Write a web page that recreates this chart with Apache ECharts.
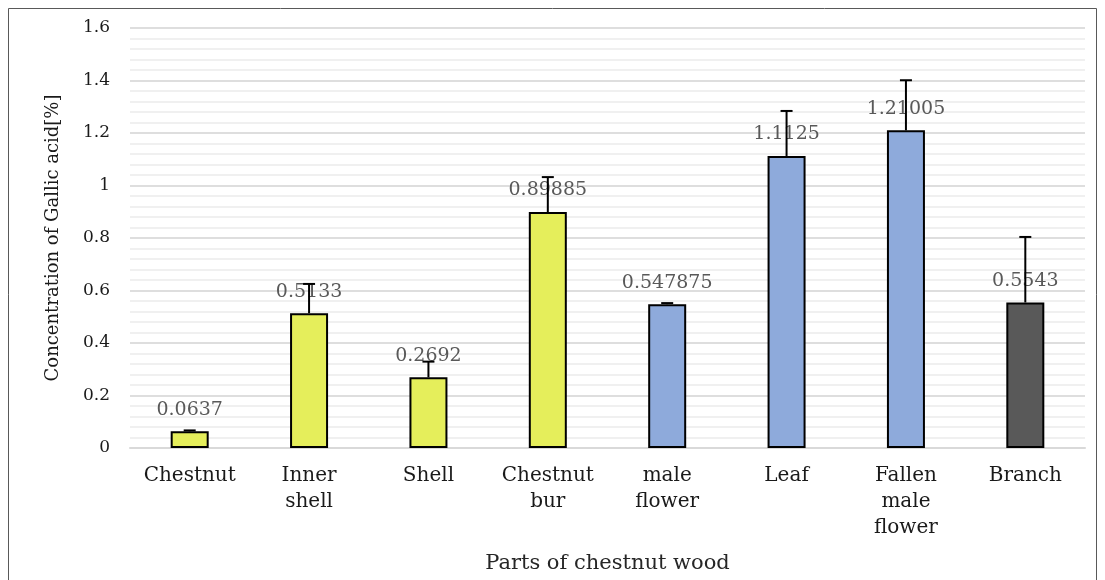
<!DOCTYPE html>
<html>
<head>
<meta charset="utf-8">
<script src="https://cdn.jsdelivr.net/npm/echarts@6/dist/echarts.min.js"></script>
<style>
  html, body { margin: 0; padding: 0; background: #fff; }
  #chart { width: 1105px; height: 580px; }
</style>
</head>
<body>
<div id="chart"></div>
<script>
// parts of the chestnut tree
var categories = ['Chestnut', 'Inner\nshell', 'Shell', 'Chestnut\nbur', 'male\nflower', 'Leaf', 'Fallen\nmale\nflower', 'Branch'];
// mean concentration
var values = [0.0637, 0.5133, 0.2692, 0.89885, 0.547875, 1.1125, 1.21005, 0.5543];
// upper end of the error bars
var errorTops = [0.067, 0.625, 0.329, 1.032, 0.552, 1.284, 1.401, 0.804];
var yTicks = [0, 0.2, 0.4, 0.6, 0.8, 1, 1.2, 1.4, 1.6];

var barColors = ['#e5ee5b', '#e5ee5b', '#e5ee5b', '#e5ee5b', '#8eaadb', '#8eaadb', '#8eaadb', '#595959'];
// the original text is a wide serif, DejaVu Serif is closest in footprint
var font = '"DejaVu Serif", "Liberation Serif", serif';

var chart = echarts.init(document.getElementById('chart'));

var option = {
  animation: false,
  backgroundColor: '#fff',
  grid: { left: 130, right: 20, top: 28, bottom: 132 },
  graphic: [{
    type: 'rect',
    shape: { x: 8.5, y: 8.5, width: 1088, height: 580 },
    style: { fill: 'none', stroke: '#595959', lineWidth: 1 },
    silent: true
  }],
  xAxis: {
    type: 'category',
    data: categories,
    name: 'Parts of chestnut wood',
    nameLocation: 'middle',
    nameGap: 105,
    nameTextStyle: { fontFamily: font, fontSize: 21, color: '#262626' },
    axisLine: { lineStyle: { color: '#d9d9d9', width: 2 } },
    axisTick: { show: false },
    axisLabel: {
      fontFamily: font, fontSize: 20, color: '#1a1a1a',
      lineHeight: 26, margin: 15, interval: 0
    }
  },
  yAxis: {
    type: 'value',
    min: 0,
    max: 1.6,
    interval: 0.2,
    name: 'Concentration of Gallic acid[%]',
    nameLocation: 'middle',
    nameGap: 68,
    nameTextStyle: { fontFamily: font, fontSize: 18, color: '#1a1a1a' },
    axisLine: { show: false },
    axisTick: { show: false },
    axisLabel: {
      fontFamily: font, fontSize: 17, color: '#1a1a1a', margin: 20,
      formatter: function (v) {
        var t = yTicks.filter(function (k) { return Math.abs(k - v) < 1e-9; })[0];
        return t === undefined ? '' : String(t);
      }
    },
    splitLine: { lineStyle: { color: '#dedede', width: 2 } },
    minorTick: { show: false, splitNumber: 5 },
    minorSplitLine: { show: true, lineStyle: { color: '#ececec', width: 1.5 } }
  },
  series: [
    {
      type: 'bar',
      barWidth: 38,
      data: values.map(function (v, i) {
        return { value: v, itemStyle: { color: barColors[i] } };
      }),
      itemStyle: { borderColor: '#000', borderWidth: 2 },
      label: {
        show: true,
        position: 'top',
        distance: 12,
        fontFamily: font,
        fontSize: 19,
        color: '#595959',
        formatter: function (p) { return String(values[p.dataIndex]); }
      },
      z: 2
    },
    {
      type: 'custom',
      data: values.map(function (v, i) { return [i, v, errorTops[i]]; }),
      renderItem: function (params, api) {
        var base = api.coord([api.value(0), api.value(1)]);
        var top = api.coord([api.value(0), api.value(2)]);
        var cap = 6;
        var st = { stroke: '#000', lineWidth: 2 };
        return {
          type: 'group',
          children: [
            { type: 'line', shape: { x1: base[0], y1: base[1], x2: top[0], y2: top[1] }, style: st },
            { type: 'line', shape: { x1: top[0] - cap, y1: top[1], x2: top[0] + cap, y2: top[1] }, style: st }
          ]
        };
      },
      z: 5
    }
  ]
};

chart.setOption(option);
</script>
</body>
</html>
